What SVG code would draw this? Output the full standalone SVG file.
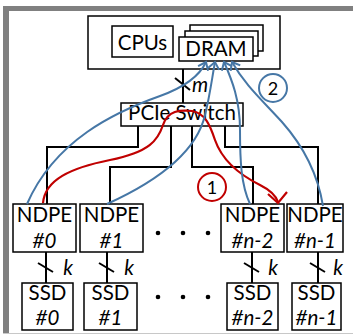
<svg xmlns="http://www.w3.org/2000/svg" width="353" height="335" viewBox="0 0 353 335">
  <defs>
    <style>
      .box { fill: #fff; stroke: #000; stroke-width: 1.5; }
      .lbl { font-family: Lato, "Liberation Sans", sans-serif; font-size: 20.5px; fill: #000; text-anchor: middle; }
      .it { font-style: italic; }
      .wire { fill: none; stroke: #000; stroke-width: 2; }
      .blue { fill: none; stroke: #4677a6; stroke-width: 2; marker-end: url(#ah-blue); }
      .red { fill: none; stroke: #c00000; stroke-width: 2.2; }
      .dot { fill: #000; }
    </style>
    <marker id="ah-blue" viewBox="-9 -7 11 14" markerWidth="11" markerHeight="14" refX="0" refY="0" orient="auto" markerUnits="userSpaceOnUse">
      <path d="M-7,-5.5 L0,0 L-7,5.5" fill="none" stroke="#4677a6" stroke-width="2"/>
    </marker>
  </defs>

  <!-- page frame -->
  <rect x="0" y="0" width="353" height="335" fill="#fff"/>
  <rect x="3" y="6" width="350" height="5" fill="#808080"/>
  <rect x="3" y="6" width="6" height="327" fill="#808080"/>
  <line x1="3" y1="333.5" x2="353" y2="333.5" stroke="#c8c8c8" stroke-width="1"/>

  <!-- bus wiring -->
  <g id="connectors">
    <line class="wire" x1="183" y1="69" x2="183" y2="103"/>
    <line class="wire" x1="175" y1="78" x2="190" y2="90"/>
    <text class="lbl it" x="200" y="92">m</text>
    <path class="wire" d="M138,126 V147 H47 V204"/>
    <path class="wire" d="M171,126 V167 H110 V204"/>
    <path class="wire" d="M192,126 V167 H253 V204"/>
    <path class="wire" d="M225,126 V147 H318 V204"/>

    <line class="wire" x1="46" y1="252" x2="46" y2="283"/>
    <line class="wire" x1="38" y1="263" x2="53" y2="272"/>
    <text class="lbl it" x="68" y="275">k</text>
    <line class="wire" x1="107" y1="252" x2="107" y2="283"/>
    <line class="wire" x1="99" y1="263" x2="114" y2="272"/>
    <text class="lbl it" x="129" y="275">k</text>
    <line class="wire" x1="252" y1="252" x2="252" y2="283"/>
    <line class="wire" x1="244" y1="263" x2="259" y2="272"/>
    <text class="lbl it" x="273" y="275">k</text>
    <line class="wire" x1="318" y1="252" x2="318" y2="283"/>
    <line class="wire" x1="310" y1="263" x2="325" y2="272"/>
    <text class="lbl it" x="338" y="275">k</text>
  </g>

  <!-- host -->
  <g id="host">
    <rect class="box" x="88" y="16" width="192" height="53"/>
  </g>
  <g id="cpus">
    <rect class="box" x="112" y="26" width="61" height="31"/>
    <text class="lbl" x="142.5" y="50">CPUs</text>
  </g>
  <g id="dram">
    <rect class="box" x="190" y="25" width="73" height="26"/>
    <rect class="box" x="185" y="31" width="73" height="25"/>
    <rect class="box" x="179" y="37" width="74" height="24"/>
    <text class="lbl" x="216" y="56">DRAM</text>
  </g>

  <g id="pcie-switch">
    <rect class="box" x="121" y="103" width="122" height="23"/>
    <text class="lbl" x="182" y="120">PCIe Switch</text>
  </g>

  <!-- near-data processing engines -->
  <g id="ndpe-0">
    <rect class="box" x="13" y="204" width="63" height="48"/>
    <text class="lbl" x="44.5" y="222">NDPE</text>
    <text class="lbl it" x="44.5" y="248">#0</text>
  </g>
  <g id="ndpe-1">
    <rect class="box" x="80" y="204" width="63" height="48"/>
    <text class="lbl" x="111.5" y="222">NDPE</text>
    <text class="lbl it" x="111.5" y="248">#1</text>
  </g>
  <g id="ndpe-n-2">
    <rect class="box" x="221" y="204" width="63" height="48"/>
    <text class="lbl" x="252.5" y="222">NDPE</text>
    <text class="lbl it" x="252.5" y="248">#n-2</text>
  </g>
  <g id="ndpe-n-1">
    <rect class="box" x="287" y="204" width="56" height="48"/>
    <text class="lbl" x="315" y="222">NDPE</text>
    <text class="lbl it" x="315" y="248">#n-1</text>
  </g>

  <!-- SSDs -->
  <g id="ssd-0">
    <rect class="box" x="22" y="283" width="51" height="47"/>
    <text class="lbl" x="47.5" y="300">SSD</text>
    <text class="lbl it" x="47.5" y="325">#0</text>
  </g>
  <g id="ssd-1">
    <rect class="box" x="84" y="283" width="53" height="47"/>
    <text class="lbl" x="110.5" y="300">SSD</text>
    <text class="lbl it" x="110.5" y="325">#1</text>
  </g>
  <g id="ssd-n-2">
    <rect class="box" x="227" y="283" width="51" height="47"/>
    <text class="lbl" x="252.5" y="300">SSD</text>
    <text class="lbl it" x="252.5" y="325">#n-2</text>
  </g>
  <g id="ssd-n-1">
    <rect class="box" x="292" y="283" width="49" height="47"/>
    <text class="lbl" x="316.5" y="300">SSD</text>
    <text class="lbl it" x="316.5" y="325">#n-1</text>
  </g>

  <!-- ellipsis dots -->
  <g id="ellipsis">
    <circle class="dot" cx="158" cy="233" r="2.3"/>
    <circle class="dot" cx="183" cy="233" r="2.3"/>
    <circle class="dot" cx="208" cy="233" r="2.3"/>
    <circle class="dot" cx="158" cy="297" r="2.3"/>
    <circle class="dot" cx="183" cy="297" r="2.3"/>
    <circle class="dot" cx="208" cy="297" r="2.3"/>
  </g>

  <!-- data flows -->
  <g id="flows">
    <path class="red" d="M43,203 C45,180 70,168 110,160 C150,152 158,140 163,125 C168,110 180,110 192,111 C205,113 210,125 215,140 C222,160 240,175 260,185 C270,190 276,196 278,202"/>
    <polyline class="red" points="268,194 278,203 287,192"/>
    <circle cx="212" cy="187" r="14" fill="none" stroke="#c00000" stroke-width="2"/>
    <text class="lbl" x="212" y="194" style="font-size:18px">1</text>

    <path class="blue" d="M27,204 C55,140 115,112 160,96 C185,87 200,75 206,62"/>
    <path class="blue" d="M107,204 C160,180 197,150 205,115 C210,95 212,78 215,62"/>
    <path class="blue" d="M250,204 C241,185 240,160 240,130 C240,100 232,80 224,62"/>
    <path class="blue" d="M323,206 C318,175 305,148 282,122 C262,100 245,85 232,62"/>
    <circle cx="273" cy="88" r="14" fill="none" stroke="#4677a6" stroke-width="2"/>
    <text class="lbl" x="273" y="95" style="font-size:18px">2</text>
  </g>
</svg>
